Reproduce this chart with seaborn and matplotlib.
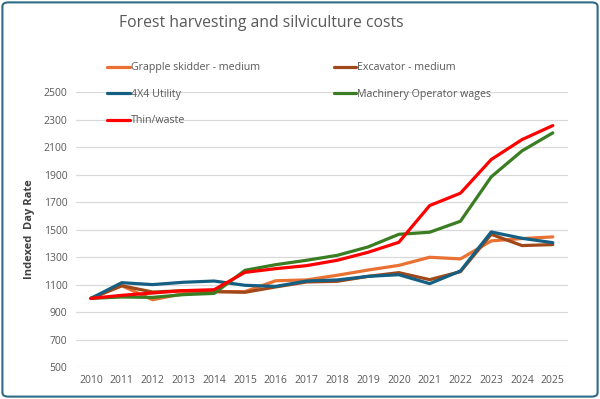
import numpy as np
import pandas as pd
import matplotlib
matplotlib.use("Agg")
import matplotlib.pyplot as plt
from matplotlib.patches import FancyBboxPatch
import seaborn as sns

years = list(range(2010, 2026))

grapple_skidder = [1000, 1092, 990, 1034, 1049, 1049, 1128, 1134, 1168, 1206,
                   1240, 1299, 1287, 1418, 1435, 1447]
excavator = [1000, 1092, 1046, 1056, 1049, 1044, 1083, 1119, 1124, 1160,
             1187, 1136, 1194, 1466, 1384, 1391]
utility_4x4 = [1000, 1114, 1100, 1117, 1126, 1095, 1087, 1126, 1134, 1160,
               1172, 1107, 1199, 1483, 1437, 1405]
operator_wages = [1000, 1010, 1007, 1027, 1036, 1204, 1245, 1277, 1313, 1374,
                  1466, 1481, 1561, 1884, 2073, 2204]
thin_waste = [1000, 1022, 1039, 1056, 1063, 1189, 1216, 1238, 1277, 1335,
              1408, 1675, 1765, 2010, 2155, 2257]

series_names = ["Grapple skidder - medium", "Excavator - medium", "4X4 Utility",
                "Machinery Operator wages", "Thin/waste"]
series_values = [grapple_skidder, excavator, utility_4x4, operator_wages, thin_waste]
colors = ["#E97132", "#A0481A", "#156082", "#3A7D22", "#FF0000"]

y_ticks = list(range(500, 2501, 200))


def main():
    rows = []
    for name, vals in zip(series_names, series_values):
        for yr, v in zip(years, vals):
            rows.append({"Year": yr, "Rate": v, "Series": name})
    df = pd.DataFrame(rows)

    sns.set_style("white")
    plt.rcParams["font.family"] = ["Open Sans", "DejaVu Sans"]

    fig = plt.figure(figsize=(6, 3.99), dpi=100)
    ax = fig.add_axes([0.126, 0.080, 0.821, 0.689])

    sns.lineplot(data=df, x="Year", y="Rate", hue="Series", hue_order=series_names,
                 palette=colors, linewidth=2.3, ax=ax, legend=False)

    ax.set_xlim(2009.5, 2025.5)
    ax.set_ylim(500, 2500)
    ax.set_xticks(years)
    ax.set_yticks(y_ticks)
    ax.tick_params(axis="both", labelsize=7.5, colors="#595959", length=0, pad=6)
    ax.yaxis.grid(True, color="#D9D9D9", linewidth=0.9)
    ax.set_axisbelow(True)
    for s in ax.spines.values():
        s.set_visible(False)
    ax.set_xlabel("")
    ax.set_ylabel("Indexed  Day Rate", fontsize=8, fontweight="bold",
                  color="#404040", labelpad=6)

    fig.text(0.435, 0.943, "Forest harvesting and silviculture costs",
             ha="center", va="center", fontsize=11.3, color="#595959")

    # legend filled row by row like the original (matplotlib fills by column)
    order = [0, 2, 4, 1, 3]
    handles = [plt.Line2D([], [], color=colors[i], linewidth=2.3) for i in order]
    labels = [series_names[i] for i in order]
    leg = fig.legend(handles, labels, ncol=2, frameon=False,
                     loc="upper left", bbox_to_anchor=(0.163, 0.868),
                     fontsize=7.7, handlelength=2.1, handletextpad=0.1,
                     columnspacing=6.9, labelspacing=1.45)
    for t in leg.get_texts():
        t.set_color("#595959")

    border = FancyBboxPatch((0.004, 0.006), 0.992, 0.988,
                            boxstyle="round,pad=0,rounding_size=0.01",
                            transform=fig.transFigure, fill=False,
                            edgecolor="#2F6B85", linewidth=1.5)
    fig.patches.append(border)

    fig.savefig("out.png", dpi=100)
    plt.close(fig)


if __name__ == "__main__":
    main()
